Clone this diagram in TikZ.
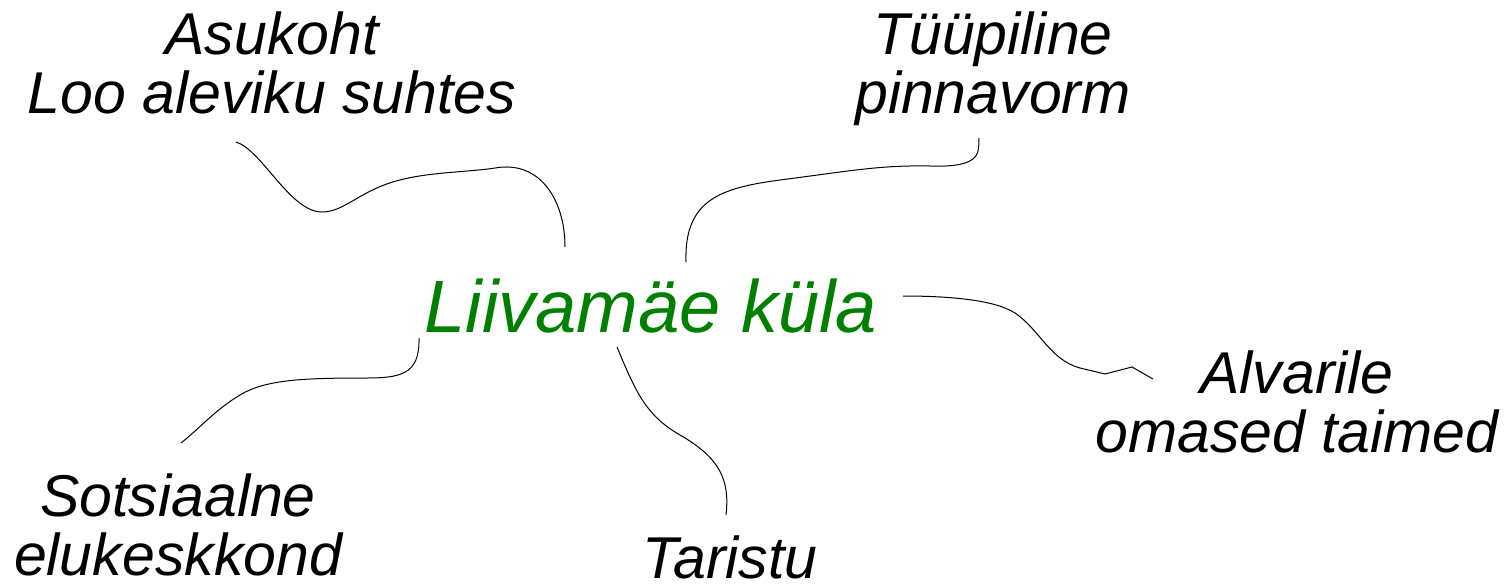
\documentclass[tikz,border=0pt]{standalone}
\usepackage{fontspec}
\setmainfont{Liberation Sans}
\definecolor{kgreen}{RGB}{0,128,0}
\begin{document}
\begin{tikzpicture}[x=1pt,y=-1pt,
  lbl/.style={font=\itshape\fontsize{59}{59}\selectfont, align=center, inner sep=0pt, anchor=base},
  mainlbl/.style={font=\itshape\fontsize{74}{80}\selectfont, text=kgreen, inner sep=0pt, anchor=base},
  conn/.style={draw=black, line width=1pt}]
\useasboundingbox (0,0) rectangle (1508,587);
\node[mainlbl] (main) at (651,332) {Liivamäe küla};
\node[lbl] (asukoht) at (272,113) {Asukoht\\Loo aleviku suhtes};
\node[lbl] (tyyp) at (993,113) {Tüüpiline\\pinnavorm};
\node[lbl] (alvar) at (1297,452) {Alvarile\\omased taimed};
\node[lbl] (sots) at (178,575) {Sotsiaalne\\elukeskkond};
\node[lbl] (tar) at (730,578) {Taristu};
% connector ends
\coordinate (a1) at (236,142); \coordinate (a2) at (565,247);
\coordinate (b1) at (686,262); \coordinate (b2) at (979,138);
\coordinate (c1) at (903,296); \coordinate (c2) at (1153,379);
\coordinate (d1) at (419,338); \coordinate (d2) at (181,443);
\coordinate (e1) at (617,347); \coordinate (e2) at (726,515);
\draw[conn] (a1) .. controls (262,150) and (290,212) .. (322,212)
  .. controls (345,212) and (360,190) .. (400,180)
  .. controls (430,172) and (470,172) .. (495,168)
  .. controls (540,160) and (565,200) .. (a2);
\draw[conn] (b1) .. controls (684,200) and (720,188) .. (780,180)
  .. controls (850,171) and (880,165) .. (930,166)
  .. controls (985,168) and (978,150) .. (b2);
\draw[conn] (c1) .. controls (950,296) and (995,300) .. (1015,313)
  .. controls (1040,330) and (1050,360) .. (1080,368)
  -- (1105,374) -- (1132,367) -- (c2);
\draw[conn] (d1) .. controls (420,375) and (400,378) .. (365,378)
  .. controls (300,378) and (265,380) .. (240,395)
  .. controls (215,410) and (200,428) .. (d2);
\draw[conn] (e1) .. controls (635,390) and (645,415) .. (680,435)
  .. controls (720,458) and (730,480) .. (e2);
\end{tikzpicture}
\end{document}
